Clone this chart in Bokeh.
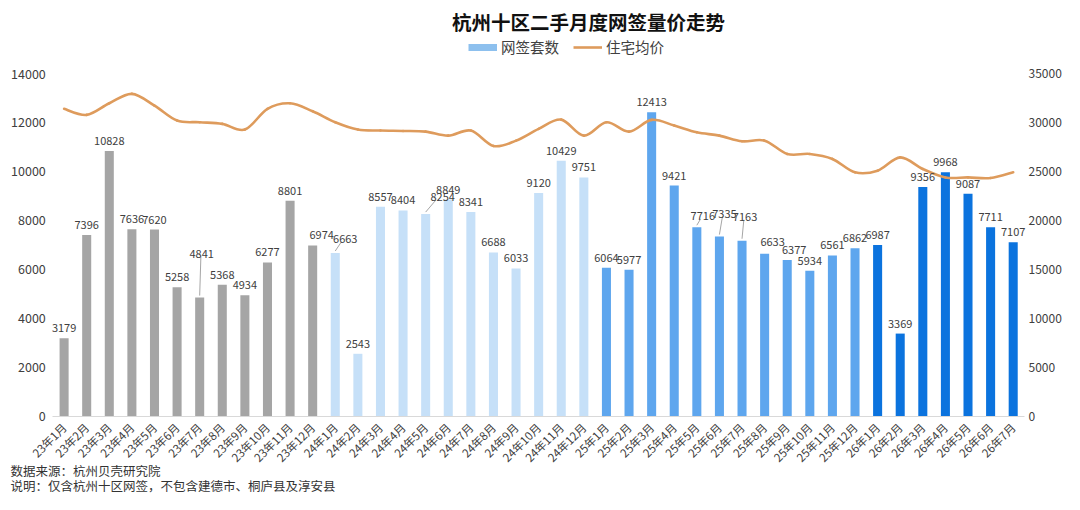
from bokeh.plotting import figure
from bokeh.models import (ColumnDataSource, Range1d, LinearAxis, FixedTicker,
                          LabelSet, Label, Legend, LegendItem)
from bokeh.core.properties import value
from bokeh.embed import file_html
from bokeh.resources import INLINE
import math

# ---------------- data ----------------
months = ["23年1月", "23年2月", "23年3月", "23年4月", "23年5月", "23年6月", "23年7月",
          "23年8月", "23年9月", "23年10月", "23年11月", "23年12月",
          "24年1月", "24年2月", "24年3月", "24年4月", "24年5月", "24年6月", "24年7月",
          "24年8月", "24年9月", "24年10月", "24年11月", "24年12月",
          "25年1月", "25年2月", "25年3月", "25年4月", "25年5月", "25年6月", "25年7月",
          "25年8月", "25年9月", "25年10月", "25年11月", "25年12月",
          "26年1月", "26年2月", "26年3月", "26年4月", "26年5月", "26年6月", "26年7月"]

deals = [3179, 7396, 10828, 7636, 7620, 5258, 4841, 5368, 4934, 6277, 8801, 6974,
         6663, 2543, 8557, 8404, 8254, 8849, 8341, 6688, 6033, 9120, 10429, 9751,
         6064, 5977, 12413, 9421, 7716, 7335, 7163, 6633, 6377, 5934, 6561, 6862,
         6987, 3369, 9356, 9968, 9087, 7711, 7107]

price = [31390, 30770, 31960, 32920, 31720, 30190, 30020, 29850, 29270, 31390, 31960, 31140,
         30020, 29270, 29170, 29130, 29060, 28650, 29170, 27600, 28140, 29340, 30290, 28650,
         30020, 29060, 30260, 29680, 28990, 28650, 28070, 28140, 26780, 26780, 26270, 24900,
         25070, 26430, 25240, 24380, 24380, 24320, 24900]

left_ticks = [0, 2000, 4000, 6000, 8000, 10000, 12000, 14000]
right_ticks = [0, 5000, 10000, 15000, 20000, 25000, 30000, 35000]

title_text = "杭州十区二手月度网签量价走势"
legend_bar = "网签套数"
legend_line = "住宅均价"
source_note = "数据来源：杭州贝壳研究院"
remark_note = "说明：仅含杭州十区网签，不包含建德市、桐庐县及淳安县"

# ---------------- layout / styles ----------------
FONT = "Noto Sans CJK SC"
year_colors = {"23": "#A5A5A5", "24": "#C6E0F8", "25": "#5EA6EE", "26": "#0B73DE"}
LINE_COLOR = "#DE9B5C"
W, H = 1064, 494
TOP_Y, ZERO_Y = 73, 415.5          # canvas px of the top tick and of zero
LEFT_X, RIGHT_X = 52.3, 1024.0     # canvas px of plot area edges
n = len(months)
ppy = (ZERO_Y - TOP_Y) / left_ticks[-1]
ppx = (RIGHT_X - LEFT_X) / n
y_start = -(H - ZERO_Y) / ppy
y_end = left_ticks[-1] + TOP_Y / ppy
r_scale = right_ticks[-1] / left_ticks[-1]
x_start = -0.5 - LEFT_X / ppx
x_end = n - 0.5 + (W - RIGHT_X) / ppx

label_moves = {6: (2, 34), 11: (9, 0), 12: (10, 4), 16: (17, 7), 28: (6, 1),
               29: (5, 13), 30: (3, 14), 31: (8, 2), 32: (7, 0)}
leaders = [6, 12, 16, 28, 29, 30]

idx = list(range(n))
colors = [year_colors[m[:2]] for m in months]
dxs = [label_moves.get(i, (0, 0))[0] for i in idx]
dys = [6 + label_moves.get(i, (0, 0))[1] for i in idx]

src = ColumnDataSource(dict(x=idx, month=months, deals=deals, price=price, color=colors,
                            label=[str(v) for v in deals], dx=dxs, dy=dys))

p = figure(width=W, height=H, x_range=Range1d(x_start, x_end),
           y_range=Range1d(y_start, y_end), output_backend="svg",
           toolbar_location=None, min_border=0)
p.extra_y_ranges = {"price": Range1d(y_start * r_scale, y_end * r_scale)}
p.outline_line_color = None
p.background_fill_color = "white"
p.border_fill_color = "white"
p.xaxis.visible = False
p.yaxis.visible = False
p.grid.visible = False

p.vbar(x="x", top="deals", width=0.4, fill_color="color", line_color=None, source=src)

# leader lines for labels that were moved away from their bar
lsrc = ColumnDataSource(dict(
    x0=[idx[i] for i in leaders],
    y0=[deals[i] + 2 / ppy for i in leaders],
    x1=[idx[i] + 0.6 * dxs[i] / ppx for i in leaders],
    y1=[deals[i] + (dys[i] + 1) / ppy for i in leaders]))
p.segment(x0="x0", y0="y0", x1="x1", y1="y1", source=lsrc, line_color="#A6A6A6", line_width=1)

# smoothed price line (Excel-style smoothing: Bezier segments through the data points)
bz = dict(x0=[], y0=[], x1=[], y1=[], cx0=[], cy0=[], cx1=[], cy1=[])
for i in range(n - 1):
    xm, ym = (idx[i - 1], price[i - 1]) if i > 0 else (idx[i], price[i])
    xp, yp = (idx[i + 2], price[i + 2]) if i + 2 < n else (idx[i + 1], price[i + 1])
    bz["x0"].append(idx[i]); bz["y0"].append(price[i])
    bz["x1"].append(idx[i + 1]); bz["y1"].append(price[i + 1])
    bz["cx0"].append(idx[i] + (idx[i + 1] - xm) / 6)
    bz["cy0"].append(price[i] + (price[i + 1] - ym) / 6)
    bz["cx1"].append(idx[i + 1] - (xp - idx[i]) / 6)
    bz["cy1"].append(price[i + 1] - (yp - price[i]) / 6)
p.bezier(x0="x0", y0="y0", x1="x1", y1="y1", cx0="cx0", cy0="cy0", cx1="cx1", cy1="cy1",
         source=ColumnDataSource(bz), y_range_name="price",
         line_color=LINE_COLOR, line_width=2.6, line_cap="round")

p.add_layout(LabelSet(x="x", y="deals", text="label", x_offset="dx", y_offset="dy", source=src,
                      text_align="center", text_baseline="bottom", text_font=value(FONT),
                      text_font_size="11px", text_color="#404040"))

def plain(axis):
    axis.major_tick_line_color = None
    axis.major_tick_out = 0
    axis.major_tick_in = 0
    axis.minor_tick_line_color = None
    axis.major_label_text_font = FONT
    axis.major_label_text_color = "#404040"

# category axis at y = 0
xa = LinearAxis(fixed_location=0, ticker=FixedTicker(ticks=idx),
                major_label_overrides={i: m for i, m in zip(idx, months)},
                bounds=(-0.5, n - 0.5))
plain(xa)
xa.axis_line_color = "#D9D9D9"
xa.axis_line_width = 1.2
xa.major_label_orientation = math.pi / 4
xa.major_label_text_font_size = "11.5px"
xa.major_label_standoff = 9
p.add_layout(xa, "below")

ya = LinearAxis(fixed_location=-0.5, ticker=FixedTicker(ticks=left_ticks), bounds=(0, left_ticks[-1]))
plain(ya)
ya.axis_line_color = None
ya.major_label_text_font_size = "12.5px"
ya.major_label_standoff = 7
p.add_layout(ya, "left")

ra = LinearAxis(y_range_name="price", fixed_location=n - 0.5,
                ticker=FixedTicker(ticks=right_ticks), bounds=(0, right_ticks[-1]))
plain(ra)
ra.axis_line_color = None
ra.major_label_text_font_size = "12px"
ra.major_label_standoff = 4
p.add_layout(ra, "right")

# legend swatches: hidden renderers styled like the legend keys
bar_swatch = p.line(x="x", y="deals", source=src, line_color="#8DC0EE", line_width=7, visible=False)
line_swatch = p.line(x="x", y="price", source=src, y_range_name="price",
                     line_color=LINE_COLOR, line_width=2.6, visible=False)
legend = Legend(items=[LegendItem(label=legend_bar, renderers=[bar_swatch]),
                       LegendItem(label=legend_line, renderers=[line_swatch])],
                location=(468, H - 48 - 9), orientation="horizontal",
                glyph_width=29, glyph_height=18, label_height=18,
                label_text_font=FONT, label_text_font_size="14.5px", label_text_color="#404040",
                label_standoff=4, spacing=14, padding=0, margin=0,
                inactive_fill_alpha=0, click_policy="none",
                border_line_color=None, background_fill_alpha=0)
p.add_layout(legend)

p.add_layout(Label(x=588, y=H - 21, x_units="screen", y_units="screen", text=title_text,
                   text_align="center", text_baseline="middle", text_font=FONT,
                   text_font_size="19.5px", text_font_style="bold", text_color="#111111"))
p.add_layout(Label(x=10, y=24, x_units="screen", y_units="screen", text=source_note,
                   text_align="left", text_baseline="middle", text_font=FONT,
                   text_font_size="12.5px", text_color="#333333"))
p.add_layout(Label(x=10, y=9, x_units="screen", y_units="screen", text=remark_note,
                   text_align="left", text_baseline="middle", text_font=FONT,
                   text_font_size="12.5px", text_color="#333333"))

open("out.html", "w").write(file_html(p, INLINE))
